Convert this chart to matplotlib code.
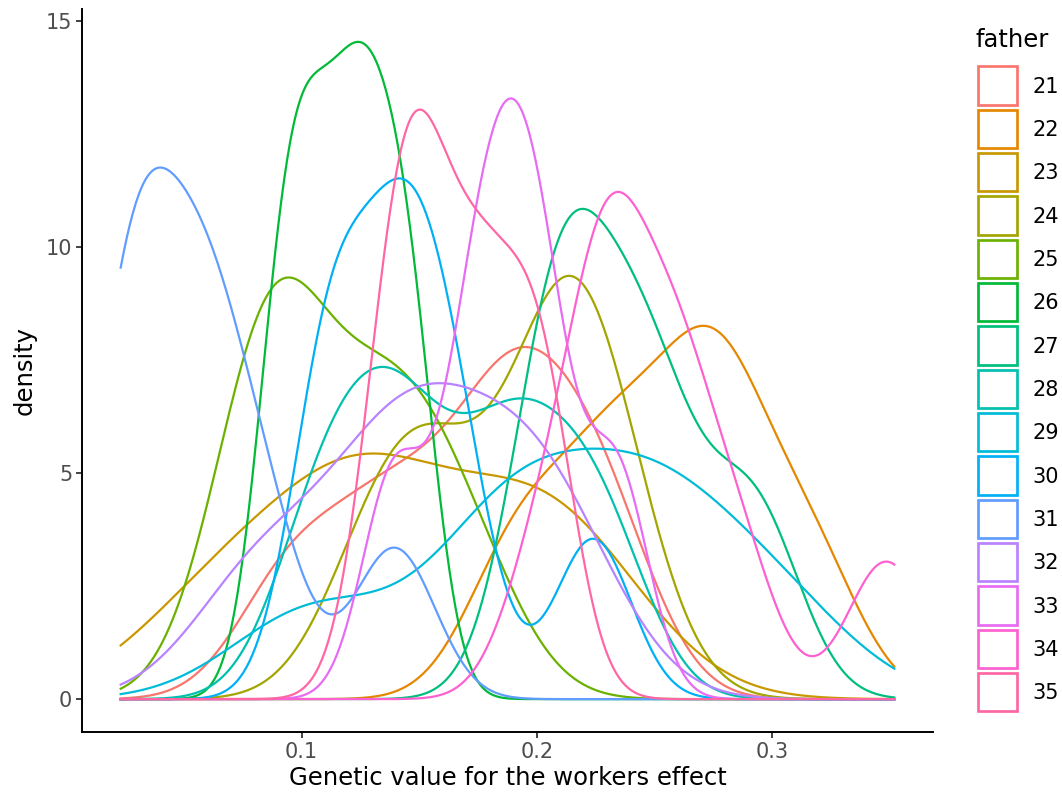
import numpy as np
import matplotlib
matplotlib.use("Agg")
import matplotlib.pyplot as plt
from matplotlib.patches import Rectangle

# ---- data -------------------------------------------------------------
fathers = ["21", "22", "23", "24", "25", "26", "27", "28",
           "29", "30", "31", "32", "33", "34", "35"]
colors = ["#F8766D", "#E58700", "#C99800", "#A3A500", "#6BB100", "#00BA38",
          "#00BF7D", "#00C0AF", "#00BCD8", "#00B0F6", "#619CFF", "#B983FF",
          "#E76BF3", "#FD61D1", "#FF67A4"]

# genetic values of the workers for each father (estimated)
gv_21 = [0.0946, 0.1290, 0.1546, 0.1876, 0.1876, 0.2138, 0.2318]
gv_22 = [0.1912, 0.2242, 0.2464, 0.2769, 0.2769, 0.3151]
gv_23 = [0.0662, 0.1205, 0.1324, 0.1906, 0.2161]
gv_24 = [0.1347, 0.1611, 0.2056, 0.2133, 0.2304]
gv_25 = [0.0876, 0.0876, 0.0876, 0.1300, 0.1410, 0.1693]
gv_26 = [0.0907, 0.1039, 0.1192, 0.1315, 0.1466]
gv_27 = [0.2086, 0.2086, 0.2352, 0.2539, 0.2922]
gv_28 = [0.1064, 0.1299, 0.1483, 0.1793, 0.2014, 0.2283]
gv_29 = [0.1051, 0.1892, 0.1892, 0.2416, 0.2529, 0.3005]
gv_30 = [0.1112, 0.1112, 0.1333, 0.1430, 0.1531, 0.1676, 0.2239]
gv_31 = [0.0263, 0.0263, 0.0379, 0.0594, 0.0594, 0.0844, 0.1395]
gv_32 = [0.0833, 0.1326, 0.1503, 0.1844, 0.2103]
gv_33 = [0.1392, 0.1695, 0.1830, 0.1934, 0.2052, 0.2340]
gv_34 = [0.2024, 0.2280, 0.2280, 0.2343, 0.2585, 0.2585, 0.2850, 0.3484]
gv_35 = [0.1387, 0.1534, 0.1765, 0.2011]

# kernel bandwidth of each father's density
bandwidths = [0.0225, 0.0213, 0.0370, 0.0241, 0.0241, 0.0118, 0.0194, 0.0203,
              0.0343, 0.0161, 0.0171, 0.0290, 0.0135, 0.0164, 0.0146]

# range over which the densities are evaluated (range of the data)
x_range = [0.0231, 0.3518]

x_ticks = [0.1, 0.2, 0.3]
x_tick_labels = ["0.1", "0.2", "0.3"]
y_ticks = [0, 5, 10, 15]
y_tick_labels = ["0", "5", "10", "15"]

values = [gv_21, gv_22, gv_23, gv_24, gv_25, gv_26, gv_27, gv_28,
          gv_29, gv_30, gv_31, gv_32, gv_33, gv_34, gv_35]


def gaussian_kde(x, data, bw):
    data = np.asarray(data, float)
    u = (x[:, None] - data[None, :]) / bw
    return np.exp(-0.5 * u * u).sum(1) / (len(data) * bw * np.sqrt(2 * np.pi))


# ---- figure -----------------------------------------------------------
W, H = 1062, 796
fig = plt.figure(figsize=(W / 100, H / 100), dpi=100)


def fy(py):
    return 1 - py / H


ax = fig.add_axes([82 / W, fy(732), (933 - 82) / W, (732 - 9) / H])
grid = np.linspace(x_range[0], x_range[1], 512)
ymax = 0.0
for vals, bw, col in zip(values, bandwidths, colors):
    dens = gaussian_kde(grid, vals, bw)
    ymax = max(ymax, dens.max())
    ax.plot(grid, dens, color=col, lw=1.6)

xr = x_range[1] - x_range[0]
ax.set_xlim(x_range[0] - 0.05 * xr, x_range[1] + 0.05 * xr)
ax.set_ylim(-0.05 * ymax, 1.05 * ymax)
for sp in ("top", "right"):
    ax.spines[sp].set_visible(False)
for sp in ("left", "bottom"):
    ax.spines[sp].set_linewidth(1.4)
ax.set_xticks(x_ticks, x_tick_labels)
ax.set_yticks(y_ticks, y_tick_labels)
ax.tick_params(length=4.1, width=1.3, color="#333333", labelcolor="#4D4D4D",
               labelsize=15, pad=3)

fig.text(507.5 / W, fy(785), "Genetic value for the workers effect",
         ha="center", va="baseline", fontsize=17.5)
fig.text(25 / W, fy(371), "density", rotation=90, ha="center", va="center",
         fontsize=17.5)

# legend
fig.text(975 / W, fy(47), "father", ha="left", va="baseline", fontsize=17.5)
for i, (f, col) in enumerate(zip(fathers, colors)):
    top = 65 + i * 43.33
    fig.patches.append(Rectangle((978 / W, fy(top + 41 - 1.35)), 39 / W,
                                 (41 - 2.7) / H, transform=fig.transFigure,
                                 fill=False, edgecolor=col, lw=1.95))
    fig.text(1032.5 / W, fy(top + 20.5 + 7.3), f, ha="left", va="baseline",
             fontsize=15)

fig.savefig("out.png", dpi=100)
